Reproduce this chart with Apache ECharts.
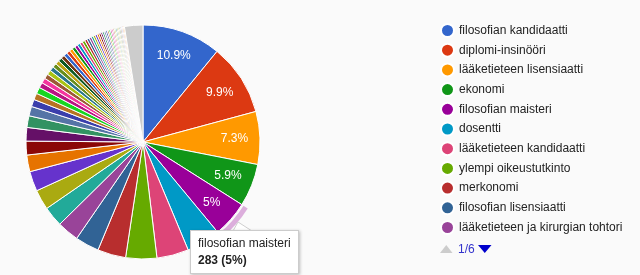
<!DOCTYPE html>
<html>
<head>
<meta charset="utf-8">
<script src="https://cdn.jsdelivr.net/npm/echarts@6/dist/echarts.min.js"></script>
<style>
html, body { margin: 0; padding: 0; background: #fafafa; }
#chart { width: 640px; height: 275px; }
</style>
</head>
<body>
<div id="chart"></div>
<script>
// tutkinnot / arvonimet, suurimmasta pienimpään
const categories = [
  "filosofian kandidaatti", "diplomi-insinööri", "lääketieteen lisensiaatti", "ekonomi",
  "filosofian maisteri", "dosentti", "lääketieteen kandidaatti", "ylempi oikeustutkinto",
  "merkonomi", "filosofian lisensiaatti", "lääketieteen ja kirurgian tohtori",
  "kauppatieteiden maisteri", "insinööri", "teologian kandidaatti", "oikeustieteen kandidaatti",
  "tekniikan tohtori", "filosofian tohtori", "hammaslääketieteen lisensiaatti",
  "kasvatustieteen maisteri", "agronomi", "proviisori", "farmaseutti", "metsänhoitaja",
  "arkkitehti", "sairaanhoitaja", "lastentarhanopettaja", "teknikko",
  "yhteiskuntatieteiden maisteri", "valtiotieteen kandidaatti", "luonnontieteiden kandidaatti",
  "humanististen tieteiden kandidaatti", "kauppatieteiden kandidaatti", "tradenomi", "sosionomi",
  "eläinlääketieteen lisensiaatti", "psykologian maisteri", "terveystieteiden maisteri",
  "liikuntatieteiden maisteri", "musiikin maisteri", "taiteen maisteri", "teologian maisteri",
  "oikeustieteen tohtori", "lääketieteen tohtori", "kauppatieteiden tohtori", "valtiotieteen tohtori",
  "maatalous- ja metsätieteiden maisteri", "elintarviketieteiden maisteri", "hammaslääkäri",
  "eläinlääkäri", "fysioterapeutti", "kätilö", "luokanopettaja", "rakennusinsinööri",
  "sähköinsinööri", "konetekniikan insinööri", "yo-merkonomi", "kasvatustieteen kandidaatti",
  "varatuomari", "kauppaneuvos", "teollisuusneuvos", "professori", "kirkkoherra", "kapteeni",
  "rovasti", "maanmittausinsinööri", "Other"
];
const counts = [
  617, 560, 413, 334, 283, 266, 249, 243, 221, 187, 170,
  158, 157, 156, 130, 108, 106, 91, 74, 57, 51, 50,
  42, 40, 38, 36, 34, 33, 31, 30, 29, 28, 27, 26, 25, 24, 23, 22, 21, 20, 19, 18, 17,
  16, 16, 15, 15, 14, 14, 13, 13, 12, 12, 11, 11, 10, 10, 10, 9, 9, 9, 9, 8, 8, 8,
  144
];
const hoverIndex = 4; // filosofian maisteri
const legendPageSize = 11;

const palette = [
  "#3366cc", "#dc3912", "#ff9900", "#109618", "#990099", "#0099c6", "#dd4477", "#66aa00",
  "#b82e2e", "#316395", "#994499", "#22aa99", "#aaaa11", "#6633cc", "#e67300", "#8b0707",
  "#651067", "#329262", "#5574a6", "#3b3eac", "#b77322", "#16d620", "#b91383", "#f4359e",
  "#9c5935", "#a9c413", "#2a778d", "#668d1c", "#bea413", "#0c5922", "#743411"
];

const font = 'Arial, "Liberation Sans", sans-serif';

const pieData = categories.map((name, i) => ({
  name: name,
  value: counts[i],
  itemStyle: { color: name === "Other" ? "#cccccc" : palette[i % palette.length] }
}));

const pageCount = Math.ceil(categories.length / legendPageSize);

const chart = echarts.init(document.getElementById("chart"));
chart.setOption({
  animation: false,
  backgroundColor: "#fafafa",
  textStyle: { fontFamily: font },
  tooltip: {
    trigger: "item",
    triggerOn: "none",
    alwaysShowContent: true,
    transitionDuration: 0,
    position: [190, 230],
    backgroundColor: "#fff",
    borderColor: "#ccc",
    borderWidth: 1,
    borderRadius: 0,
    padding: [4, 7],
    extraCssText: "box-shadow: 1px 1px 3px rgba(0,0,0,0.25); line-height: 17px;",
    textStyle: { fontFamily: font, fontSize: 12, color: "#222" },
    formatter: (p) => p.name + "<br/><b>" + p.value + " (" + p.percent + "%)</b>"
  },
  legend: {
    orient: "vertical",
    left: 440,
    top: 23,
    padding: 0,
    icon: "circle",
    itemWidth: 13,
    itemHeight: 13,
    itemGap: 4.7,
    itemTextGap: 5,
    textStyle: { fontFamily: font, fontSize: 12, color: "#222" },
    data: categories.slice(0, legendPageSize)
  },
  graphic: [
    // sivutus: ▲ 1/6 ▼
    { type: "polygon", shape: { points: [[440, 253], [452.5, 253], [446.25, 245]] }, style: { fill: "#cccccc" } },
    { type: "text", left: 458, top: 244, style: { text: "1/" + pageCount, fill: "#3333cc", font: "12px " + font } },
    { type: "polygon", shape: { points: [[478, 245], [491.5, 245], [484.75, 253]] }, style: { fill: "#0000cc" } },
    // tooltipin kärki
    { type: "polyline", shape: { points: [[233, 231], [238, 222], [252, 231]] }, style: { stroke: "#cfcfcf", lineWidth: 1, fill: "#ffffff" }, z: 10 }
  ],
  series: [
    {
      type: "pie",
      center: [143, 142],
      radius: [0, 117],
      startAngle: 90,
      percentPrecision: 1,
      data: pieData,
      label: { show: false },
      labelLine: { show: false },
      itemStyle: { borderColor: "#ffffff", borderWidth: 1 },
      emphasis: { disabled: true }
    },
    {
      // prosenttitekstit suurimpiin sektoreihin
      type: "pie",
      center: [143, 142],
      radius: [60, 117],
      startAngle: 90,
      percentPrecision: 1,
      silent: true,
      tooltip: { show: false },
      data: pieData.map((d) => ({ name: d.name, value: d.value })),
      itemStyle: { color: "rgba(0,0,0,0)" },
      label: {
        show: true,
        position: "inside",
        color: "#fff",
        fontSize: 12,
        fontFamily: font,
        formatter: (p) => (p.percent >= 5 ? p.percent + "%" : "")
      },
      labelLine: { show: false },
      emphasis: { disabled: true }
    },
    {
      // hover-rengas
      type: "pie",
      center: [143, 142],
      radius: [119, 124],
      startAngle: 90,
      silent: true,
      tooltip: { show: false },
      data: pieData.map((d, i) => ({
        name: d.name,
        value: d.value,
        itemStyle: { color: i === hoverIndex ? "rgba(153,0,153,0.3)" : "rgba(0,0,0,0)" }
      })),
      label: { show: false },
      labelLine: { show: false },
      emphasis: { disabled: true }
    }
  ]
});
chart.dispatchAction({ type: "showTip", seriesIndex: 0, dataIndex: hoverIndex });
</script>
</body>
</html>
